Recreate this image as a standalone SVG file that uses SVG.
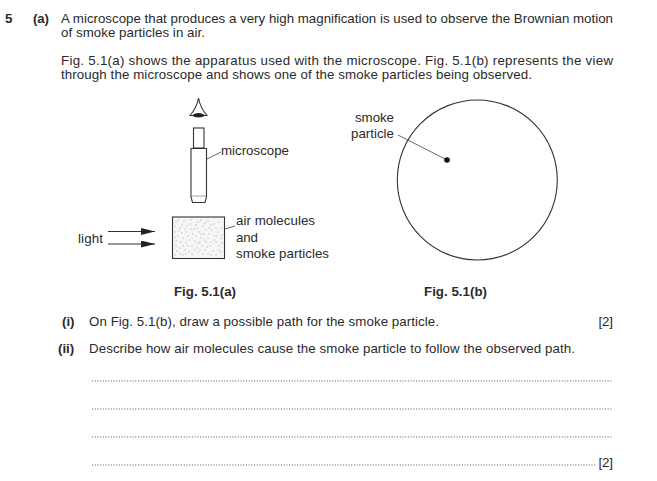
<svg xmlns="http://www.w3.org/2000/svg" width="657" height="481" viewBox="0 0 657 481">
<style>
text{font-family:"Liberation Sans",Arial,sans-serif;font-size:13.300px;fill:#2a2a2a}
.b{font-weight:bold}
.s{fill:none;stroke:#333;stroke-width:1.1}
.l{fill:none;stroke:#555;stroke-width:.9}
.d{fill:none;stroke:#444;stroke-width:.9;stroke-dasharray:1 1.700}
</style>
<defs><marker id="a" markerWidth="16" markerHeight="8" refX="14" refY="3.500" orient="auto" markerUnits="userSpaceOnUse"><path d="M0 0L14 3.500L0 7Z" fill="#222"/></marker></defs>
<rect width="657" height="481" fill="#fff"/>
<g id="question-text">
<text class="b" x="5" y="23">5</text>
<text class="b" x="33" y="23" textLength="16">(a)</text>
<text x="61" y="23" textLength="552">A microscope that produces a very high magnification is used to observe the Brownian motion</text>
<text x="61" y="37" textLength="144">of smoke particles in air.</text>
<text x="61" y="65" textLength="552">Fig. 5.1(a) shows the apparatus used with the microscope. Fig. 5.1(b) represents the view</text>
<text x="61" y="79" textLength="471">through the microscope and shows one of the smoke particles being observed.</text>
<text class="b" x="62" y="325.500">(i)</text>
<text x="89" y="325.500" textLength="350">On Fig. 5.1(b), draw a possible path for the smoke particle.</text>
<text x="598.500" y="325.500" textLength="14.500">[2]</text>
<text class="b" x="58" y="353">(ii)</text>
<text x="89" y="353" textLength="486">Describe how air molecules cause the smoke particle to follow the observed path.</text>
<line class="d" x1="92" y1="381" x2="612" y2="381"/>
<line class="d" x1="92" y1="409" x2="612" y2="409"/>
<line class="d" x1="92" y1="437" x2="612" y2="437"/>
<line class="d" x1="92" y1="465" x2="597" y2="465"/>
<text x="598.500" y="467" textLength="14.500">[2]</text>
</g>
<g id="connectors">
<line class="s" x1="108" y1="231.500" x2="155" y2="231.500" marker-end="url(#a)"/>
<line class="s" x1="108" y1="244" x2="155" y2="244" marker-end="url(#a)"/>
<line class="l" x1="207" y1="159" x2="221" y2="152"/>
<line class="l" x1="215" y1="232" x2="235" y2="226"/>
<line class="l" x1="398" y1="135" x2="447" y2="160"/>
</g>
<g id="eye">
<path class="s" d="M198.500 98C197 106 194 111 190 115.500H207C203 111 200 106 198.500 98Z"/>
<path d="M192 115.500C195 112 202 112 205 115.500C202 118 195 118 192 115.500Z" fill="#222"/>
</g>
<g id="microscope">
<rect class="s" x="193.500" y="128" width="10.500" height="20"/>
<path class="s" d="M191 148.500H206.500V197L205 202.500H192.500L191 197Z"/>
<line class="l" x1="191" y1="196" x2="206.500" y2="196" stroke-opacity=".6"/>
<text x="221" y="155" textLength="68">microscope</text>
</g>
<g id="chamber">
<rect x="172.500" y="217" width="52" height="41.500" fill="#f6f6f6" stroke="#333" stroke-width="1.100"/>
<path d="M176 222h.1M180 228h.1M184 221h.1M178 236h.1M186 232h.1M190 224h.1M194 229h.1M198 222h.1M203 226h.1M208 221h.1M214 224h.1M219 222h.1M176 246h.1M181 242h.1M185 250h.1M189 240h.1M192 246h.1M196 236h.1M200 242h.1M204 234h.1M208 238h.1M212 230h.1M218 232h.1M221 238h.1M216 242h.1M210 246h.1M205 250h.1M198 252h.1M192 254h.1M180 254h.1M175 232h.1M183 238h.1M187 226h.1M193 234h.1M199 232h.1M206 230h.1M214 236h.1M219 246h.1M213 251h.1M208 254h.1M202 246h.1M195 241h.1M188 246h.1M183 246h.1M177 251h.1M221 252h.1M216 255h.1M221 228h.1M211 225h.1M201 238h.1M191 229h.1M182 233h.1M203 254h.1M186 254h.1M176 241h.1M197 248h.1M206 242h.1M175 226h.1M178 220h.1M182 225h.1M185 229h.1M179 231h.1M188 236h.1M191 220h.1M196 225h.1M201 220h.1M205 223h.1M216 228h.1M222 235h.1M222 243h.1M219 250h.1M211 255h.1M200 250h.1M194 250h.1M189 252h.1M183 255h.1M175 255h.1M175 237h.1M180 248h.1M186 243h.1M192 238h.1M198 243h.1M204 240h.1M209 234h.1M214 240h.1M217 236h.1M211 242h.1M207 247h.1M201 234h.1M197 228h.1M209 228h.1" stroke="#888" stroke-width=".9" stroke-linecap="round" fill="none"/>
<text x="236" y="225" textLength="79">air molecules</text>
<text x="236" y="241.500" textLength="22">and</text>
<text x="236" y="258" textLength="93">smoke particles</text>
</g>
<g id="light"><text x="78" y="242.500" textLength="25">light</text></g>
<g id="view">
<circle class="s" cx="477.300" cy="180" r="80"/>
<circle cx="447" cy="160" r="2.800" fill="#111"/>
<text x="355" y="121.500" textLength="39">smoke</text>
<text x="351" y="138" textLength="43">particle</text>
</g>
<g id="captions">
<text class="b" x="174" y="296" textLength="62">Fig. 5.1(a)</text>
<text class="b" x="424" y="296" textLength="63">Fig. 5.1(b)</text>
</g>
</svg>
